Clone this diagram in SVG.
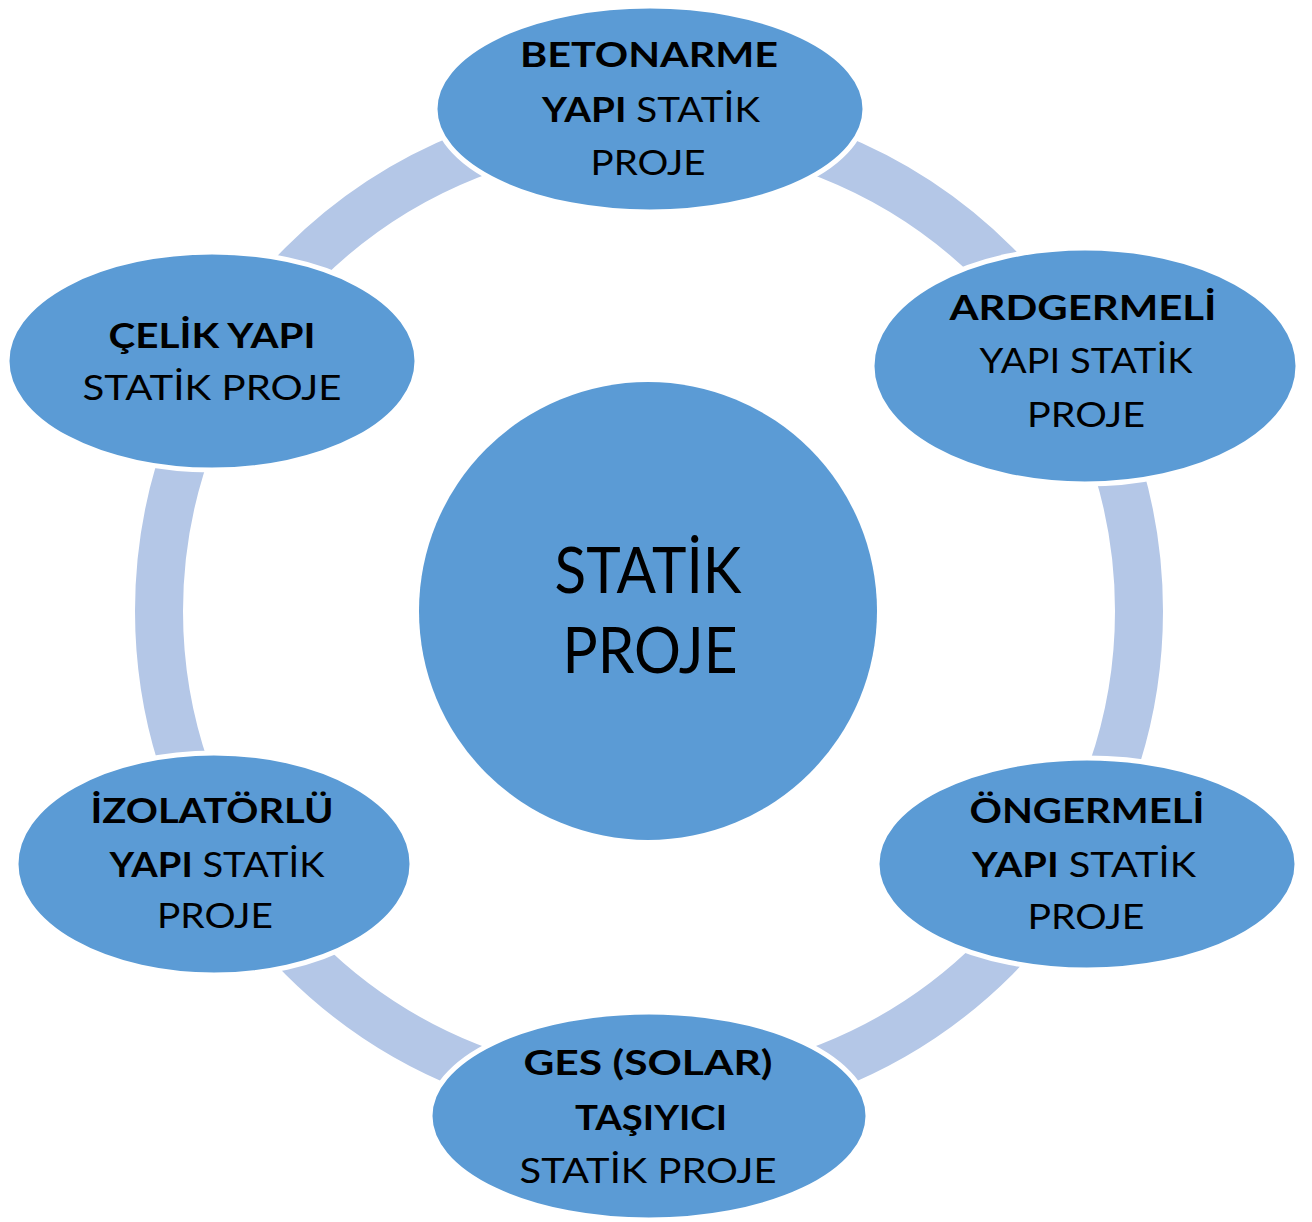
<svg xmlns="http://www.w3.org/2000/svg" width="1312" height="1222" viewBox="0 0 1312 1222">
<style>
.node{fill:#5B9BD5;stroke:#FFFFFF;stroke-width:5}
.ring{fill:none;stroke:#B4C7E7;stroke-width:48}
text{font-family:Lato,"Open Sans","Liberation Sans",sans-serif;fill:#000;text-anchor:middle}
.t{font-size:35px}
.c{font-size:63px}
.b{font-weight:bold}
</style>
<rect width="1312" height="1222" fill="#FFFFFF"/>
<g id="connectors">
<circle class="ring" cx="649" cy="611" r="490"/>
</g>
<g id="center">
<circle cx="648" cy="611" r="229" fill="#5B9BD5"/>
<text class="c" x="648" y="593" textLength="187" lengthAdjust="spacingAndGlyphs">STATİK</text>
<text class="c" x="650" y="673" textLength="175" lengthAdjust="spacingAndGlyphs">PROJE</text>
</g>
<g id="betonarme">
<ellipse class="node" cx="650" cy="109" rx="215" ry="103"/>
<text class="t b" x="649" y="67" textLength="258" lengthAdjust="spacingAndGlyphs">BETONARME</text>
<text class="t" x="651" y="122" textLength="218" lengthAdjust="spacingAndGlyphs"><tspan class="b">YAPI</tspan> STATİK</text>
<text class="t" x="648" y="175" textLength="115" lengthAdjust="spacingAndGlyphs">PROJE</text>
</g>
<g id="ardgermeli">
<ellipse class="node" cx="1085" cy="366" rx="213" ry="118"/>
<text class="t b" x="1083" y="320" textLength="267" lengthAdjust="spacingAndGlyphs">ARDGERMELİ</text>
<text class="t" x="1086" y="373" textLength="213" lengthAdjust="spacingAndGlyphs">YAPI STATİK</text>
<text class="t" x="1086" y="427" textLength="118" lengthAdjust="spacingAndGlyphs">PROJE</text>
</g>
<g id="ongermeli">
<ellipse class="node" cx="1087" cy="864" rx="210" ry="106"/>
<text class="t b" x="1087" y="823" textLength="235" lengthAdjust="spacingAndGlyphs">ÖNGERMELİ</text>
<text class="t" x="1084" y="877" textLength="224" lengthAdjust="spacingAndGlyphs"><tspan class="b">YAPI</tspan> STATİK</text>
<text class="t" x="1086" y="929" textLength="117" lengthAdjust="spacingAndGlyphs">PROJE</text>
</g>
<g id="ges">
<ellipse class="node" cx="649" cy="1116" rx="219" ry="104"/>
<text class="t b" x="648" y="1075" textLength="249" lengthAdjust="spacingAndGlyphs">GES (SOLAR)</text>
<text class="t b" x="651" y="1130" textLength="152" lengthAdjust="spacingAndGlyphs">TAŞIYICI</text>
<text class="t" x="648" y="1183" textLength="257" lengthAdjust="spacingAndGlyphs">STATİK PROJE</text>
</g>
<g id="izolatorlu">
<ellipse class="node" cx="214" cy="864" rx="198" ry="111"/>
<text class="t b" x="212" y="823" textLength="243" lengthAdjust="spacingAndGlyphs">İZOLATÖRLÜ</text>
<text class="t" x="217" y="877" textLength="215" lengthAdjust="spacingAndGlyphs"><tspan class="b">YAPI</tspan> STATİK</text>
<text class="t" x="215" y="928" textLength="116" lengthAdjust="spacingAndGlyphs">PROJE</text>
</g>
<g id="celik">
<ellipse class="node" cx="212" cy="361" rx="205" ry="109"/>
<text class="t b" x="212" y="348" textLength="207" lengthAdjust="spacingAndGlyphs">ÇELİK YAPI</text>
<text class="t" x="212" y="400" textLength="259" lengthAdjust="spacingAndGlyphs">STATİK PROJE</text>
</g>
</svg>
